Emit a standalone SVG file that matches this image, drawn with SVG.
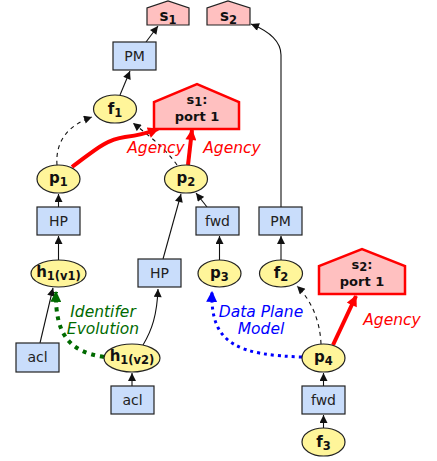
<svg xmlns="http://www.w3.org/2000/svg" width="437" height="461" viewBox="0 0 437 461">
<style>
.ell{fill:#fff59a;stroke:#222;stroke-width:1.2}
.box{fill:#c9ddfb;stroke:#222;stroke-width:1.2}
.house{fill:#ffc0c0;stroke:#222;stroke-width:1.2}
.bighouse{fill:#ffc0c0;stroke:#ff0000;stroke-width:2.5}
.bt{font-family:"DejaVu Sans",sans-serif;font-size:14px;fill:#222;text-anchor:middle}
.el{font-family:"DejaVu Sans",sans-serif;font-size:15px;font-weight:bold;fill:#111;text-anchor:middle}
.sub{font-size:11.5px}
.hl{font-family:"DejaVu Sans",sans-serif;font-size:13px;font-weight:bold;fill:#111;text-anchor:middle}
.lab{font-family:"DejaVu Sans",sans-serif;font-size:15.5px;font-style:italic;text-anchor:middle}
.c{fill:none;stroke:#111;stroke-width:1.1}
.d{fill:none;stroke:#111;stroke-width:1.1;stroke-dasharray:4,4}
.r{fill:none;stroke:#ff0000;stroke-width:4}
</style>
<defs>
<marker id="ab" viewBox="0 0 10 10" refX="10" refY="5" markerWidth="9" markerHeight="8" markerUnits="userSpaceOnUse" orient="auto"><path d="M0,0 L10,5 L0,10 z" fill="#111"/></marker>
<marker id="ar" viewBox="0 0 10 10" refX="9" refY="5" markerWidth="12" markerHeight="11" markerUnits="userSpaceOnUse" orient="auto"><path d="M0,0 L10,5 L0,10 z" fill="#ff0000"/></marker>
<marker id="ag" viewBox="0 0 10 10" refX="9" refY="5" markerWidth="11" markerHeight="11" markerUnits="userSpaceOnUse" orient="auto"><path d="M0,0 L10,5 L0,10 z" fill="#006a00"/></marker>
<marker id="abl" viewBox="0 0 10 10" refX="9" refY="5" markerWidth="11" markerHeight="11" markerUnits="userSpaceOnUse" orient="auto"><path d="M0,0 L10,5 L0,10 z" fill="#0000ff"/></marker>
</defs>

<g id="connectors">
<path class="c" d="M120,95 L130,71" marker-end="url(#ab)"/>
<path class="c" d="M146,42 L158,26" marker-end="url(#ab)"/>
<path class="c" d="M281,207 L281,55 C281,40 266,30 251,24" marker-end="url(#ab)"/>
<path class="c" d="M58.5,207 L58.5,194" marker-end="url(#ab)"/>
<path class="c" d="M58.5,260 L58.5,236" marker-end="url(#ab)"/>
<path class="c" d="M40,343 L53,288" marker-end="url(#ab)"/>
<path class="c" d="M143,345 C152,330 157,315 158,289" marker-end="url(#ab)"/>
<path class="c" d="M132,386 L132,373" marker-end="url(#ab)"/>
<path class="c" d="M163,259 L181,194" marker-end="url(#ab)"/>
<path class="c" d="M207,207 L196,193" marker-end="url(#ab)"/>
<path class="c" d="M219.5,260 L219.5,236" marker-end="url(#ab)"/>
<path class="c" d="M281,260 L281,236" marker-end="url(#ab)"/>
<path class="c" d="M323.5,386 L323.5,373" marker-end="url(#ab)"/>
<path class="c" d="M323.5,428 L323.5,415" marker-end="url(#ab)"/>
<path class="d" d="M57,165 C55,138 72,124 92,117" marker-end="url(#ab)"/>
<path class="d" d="M177,165 C165,148 148,135 133,123" marker-end="url(#ab)"/>
<path class="d" d="M321,344 C320,320 311,300 297,286" marker-end="url(#ab)"/>
<path class="r" d="M72,167 C95,150 105,140 125,137 C140,135 148,133 158,129" marker-end="url(#ar)"/>
<path class="r" d="M188,165 L192,130" marker-end="url(#ar)"/>
<path class="r" d="M333,345 L356,296" marker-end="url(#ar)"/>
<path d="M104,357 C70,352 55,335 56,292" fill="none" stroke="#006a00" stroke-width="4" stroke-dasharray="4,5" marker-end="url(#ag)"/>
<path d="M302,357 C240,355 210,345 212,292" fill="none" stroke="#0000ff" stroke-width="3" stroke-dasharray="3,4" marker-end="url(#abl)"/>
</g>

<g id="s1">
<polygon class="house" points="147,25 147,8 168,1 189,8 189,25"/>
<text class="hl" x="168" y="21" style="font-size:15px">s<tspan class="sub" dy="3">1</tspan></text>
</g>
<g id="s2">
<polygon class="house" points="207,25 207,8 228,1 250,8 250,25"/>
<text class="hl" x="228.5" y="21" style="font-size:15px">s<tspan class="sub" dy="3">2</tspan></text>
</g>
<g id="pm1">
<rect class="box" x="113" y="42" width="43" height="28"/>
<text class="bt" x="134.5" y="61">PM</text>
</g>
<g id="f1">
<ellipse class="ell" cx="115" cy="109" rx="21.5" ry="14"/>
<text class="el" x="115" y="114">f<tspan class="sub" dy="3">1</tspan></text>
</g>
<g id="s1port1">
<polygon class="bighouse" points="154,129 154,102 197,84 239,102 239,129"/>
<text class="hl" x="197" y="104">s<tspan class="sub" dy="2">1</tspan><tspan dy="-2">:</tspan></text>
<text class="hl" x="197" y="121">port 1</text>
</g>
<g id="p1">
<ellipse class="ell" cx="58.5" cy="179" rx="21.5" ry="14"/>
<text class="el" x="58.5" y="183">p<tspan class="sub" dy="3">1</tspan></text>
</g>
<g id="p2">
<ellipse class="ell" cx="186" cy="179" rx="21.5" ry="14"/>
<text class="el" x="186" y="183">p<tspan class="sub" dy="3">2</tspan></text>
</g>
<g id="hp1">
<rect class="box" x="37" y="207" width="43" height="28"/>
<text class="bt" x="58.5" y="226">HP</text>
</g>
<g id="fwd1">
<rect class="box" x="196" y="207" width="43" height="28"/>
<text class="bt" x="217.5" y="226">fwd</text>
</g>
<g id="pm2">
<rect class="box" x="259" y="207" width="43" height="28"/>
<text class="bt" x="280.5" y="226">PM</text>
</g>
<g id="h1v1">
<ellipse class="ell" cx="58.5" cy="273.5" rx="27.5" ry="13.5"/>
<text class="el" x="58.5" y="277">h<tspan class="sub" dy="3">1(v1)</tspan></text>
</g>
<g id="hp2">
<rect class="box" x="138" y="259" width="43" height="28"/>
<text class="bt" x="159.5" y="278">HP</text>
</g>
<g id="p3">
<ellipse class="ell" cx="219.5" cy="273.5" rx="21.5" ry="13.5"/>
<text class="el" x="219.5" y="277.5">p<tspan class="sub" dy="3">3</tspan></text>
</g>
<g id="f2">
<ellipse class="ell" cx="281" cy="273.5" rx="21.5" ry="13.5"/>
<text class="el" x="281" y="278">f<tspan class="sub" dy="3">2</tspan></text>
</g>
<g id="s2port1">
<polygon class="bighouse" points="319,294 319,266 362,249 405,266 405,294"/>
<text class="hl" x="362" y="269">s<tspan class="sub" dy="2">2</tspan><tspan dy="-2">:</tspan></text>
<text class="hl" x="362" y="286">port 1</text>
</g>
<g id="acl1">
<rect class="box" x="16" y="343" width="43" height="29"/>
<text class="bt" x="37.5" y="362">acl</text>
</g>
<g id="h1v2">
<ellipse class="ell" cx="132" cy="358" rx="28" ry="14"/>
<text class="el" x="132" y="361">h<tspan class="sub" dy="3">1(v2)</tspan></text>
</g>
<g id="p4">
<ellipse class="ell" cx="323.5" cy="358" rx="21.5" ry="14"/>
<text class="el" x="323.5" y="362">p<tspan class="sub" dy="3">4</tspan></text>
</g>
<g id="acl2">
<rect class="box" x="111" y="386" width="43" height="28"/>
<text class="bt" x="132.5" y="405">acl</text>
</g>
<g id="fwd2">
<rect class="box" x="302" y="386" width="43" height="28"/>
<text class="bt" x="323.5" y="405">fwd</text>
</g>
<g id="f3">
<ellipse class="ell" cx="323.5" cy="442" rx="21.5" ry="14"/>
<text class="el" x="323.5" y="447">f<tspan class="sub" dy="3">3</tspan></text>
</g>

<g id="labels">
<text class="lab" x="156" y="153" fill="#ff0000">Agency</text>
<text class="lab" x="232" y="153" fill="#ff0000">Agency</text>
<text class="lab" x="392" y="325" fill="#ff0000">Agency</text>
<text class="lab" x="103" y="317" fill="#006a00">Identifer</text>
<text class="lab" x="103" y="334" fill="#006a00">Evolution</text>
<text class="lab" x="261" y="317" fill="#0000ff">Data Plane</text>
<text class="lab" x="261" y="334" fill="#0000ff">Model</text>
</g>
</svg>
